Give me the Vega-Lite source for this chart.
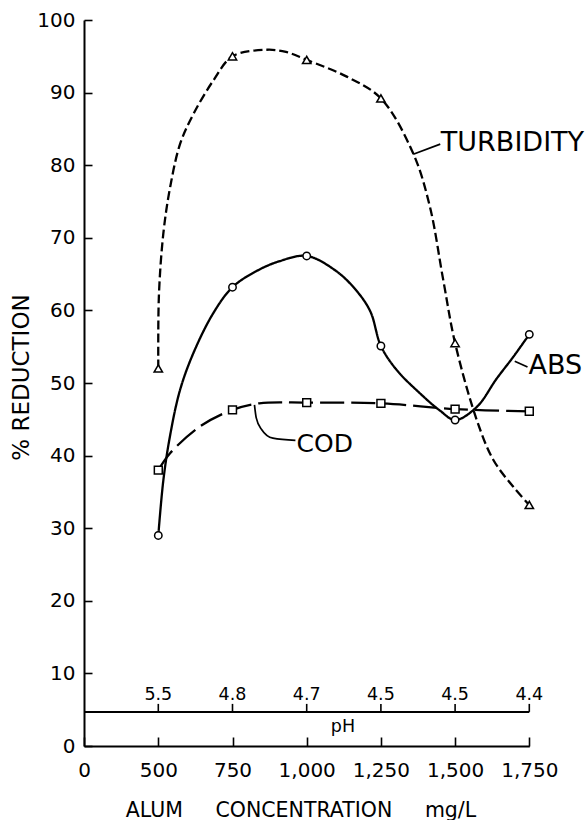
{
  "$schema": "https://vega.github.io/schema/vega-lite/v6.json",
  "autosize": "none",
  "width": 446,
  "height": 726,
  "padding": {"left": 84, "top": 20, "right": 57, "bottom": 74},
  "background": "white",
  "config": {
    "view": {"stroke": null},
    "font": "DejaVu Sans",
    "axis": {
      "domainColor": "black",
      "domainWidth": 2,
      "tickColor": "black",
      "tickWidth": 1.6,
      "labelColor": "black",
      "titleColor": "black",
      "labelFont": "DejaVu Sans",
      "titleFont": "DejaVu Sans",
      "labelFontSize": 20,
      "titleFontWeight": "normal",
      "grid": false,
      "labelOverlap": false,
      "labelFlush": false
    }
  },
  "datasets": {
    "curves": [
      {"series": "TURBIDITY", "alum": 500, "value": 52},
      {"series": "TURBIDITY", "alum": 502, "value": 62},
      {"series": "TURBIDITY", "alum": 517, "value": 70.6},
      {"series": "TURBIDITY", "alum": 540, "value": 77},
      {"series": "TURBIDITY", "alum": 574, "value": 83},
      {"series": "TURBIDITY", "alum": 619, "value": 87.1},
      {"series": "TURBIDITY", "alum": 686, "value": 91.7},
      {"series": "TURBIDITY", "alum": 750, "value": 95},
      {"series": "TURBIDITY", "alum": 865, "value": 95.9},
      {"series": "TURBIDITY", "alum": 930, "value": 95.6},
      {"series": "TURBIDITY", "alum": 1000, "value": 94.5},
      {"series": "TURBIDITY", "alum": 1135, "value": 92.2},
      {"series": "TURBIDITY", "alum": 1250, "value": 89.2},
      {"series": "TURBIDITY", "alum": 1359, "value": 81.6},
      {"series": "TURBIDITY", "alum": 1415, "value": 74.3},
      {"series": "TURBIDITY", "alum": 1460, "value": 64.2},
      {"series": "TURBIDITY", "alum": 1500, "value": 55.5},
      {"series": "TURBIDITY", "alum": 1573, "value": 44.9},
      {"series": "TURBIDITY", "alum": 1629, "value": 39.4},
      {"series": "TURBIDITY", "alum": 1696, "value": 35.7},
      {"series": "TURBIDITY", "alum": 1750, "value": 33.2},
      {"series": "ABS", "alum": 500, "value": 29},
      {"series": "ABS", "alum": 517, "value": 36.6},
      {"series": "ABS", "alum": 539, "value": 42.6},
      {"series": "ABS", "alum": 573, "value": 49},
      {"series": "ABS", "alum": 618, "value": 54.1},
      {"series": "ABS", "alum": 685, "value": 59.6},
      {"series": "ABS", "alum": 750, "value": 63.2},
      {"series": "ABS", "alum": 830, "value": 65.4},
      {"series": "ABS", "alum": 910, "value": 66.8},
      {"series": "ABS", "alum": 1000, "value": 67.5},
      {"series": "ABS", "alum": 1100, "value": 65.4},
      {"series": "ABS", "alum": 1170, "value": 62.6},
      {"series": "ABS", "alum": 1215, "value": 59.8},
      {"series": "ABS", "alum": 1250, "value": 55.1},
      {"series": "ABS", "alum": 1303, "value": 51.8},
      {"series": "ABS", "alum": 1381, "value": 48.6},
      {"series": "ABS", "alum": 1449, "value": 46.2},
      {"series": "ABS", "alum": 1500, "value": 44.9},
      {"series": "ABS", "alum": 1573, "value": 46.7},
      {"series": "ABS", "alum": 1640, "value": 50.6},
      {"series": "ABS", "alum": 1696, "value": 53.6},
      {"series": "ABS", "alum": 1750, "value": 56.7},
      {"series": "COD", "alum": 500, "value": 38},
      {"series": "COD", "alum": 539, "value": 40.3},
      {"series": "COD", "alum": 640, "value": 44},
      {"series": "COD", "alum": 750, "value": 46.3},
      {"series": "COD", "alum": 840, "value": 47.2},
      {"series": "COD", "alum": 1000, "value": 47.3},
      {"series": "COD", "alum": 1250, "value": 47.2},
      {"series": "COD", "alum": 1500, "value": 46.4},
      {"series": "COD", "alum": 1750, "value": 46.1}
    ],
    "points": [
      {"series": "TURBIDITY", "alum": 500, "value": 52},
      {"series": "TURBIDITY", "alum": 750, "value": 95},
      {"series": "TURBIDITY", "alum": 1000, "value": 94.5},
      {"series": "TURBIDITY", "alum": 1250, "value": 89.2},
      {"series": "TURBIDITY", "alum": 1500, "value": 55.5},
      {"series": "TURBIDITY", "alum": 1750, "value": 33.2},
      {"series": "ABS", "alum": 500, "value": 29},
      {"series": "ABS", "alum": 750, "value": 63.2},
      {"series": "ABS", "alum": 1000, "value": 67.5},
      {"series": "ABS", "alum": 1250, "value": 55.1},
      {"series": "ABS", "alum": 1500, "value": 44.9},
      {"series": "ABS", "alum": 1750, "value": 56.7},
      {"series": "COD", "alum": 500, "value": 38},
      {"series": "COD", "alum": 750, "value": 46.3},
      {"series": "COD", "alum": 1000, "value": 47.3},
      {"series": "COD", "alum": 1250, "value": 47.2},
      {"series": "COD", "alum": 1500, "value": 46.4},
      {"series": "COD", "alum": 1750, "value": 46.1}
    ],
    "ph": [
      {"alum": 500, "ph": 5.5},
      {"alum": 750, "ph": 4.8},
      {"alum": 1000, "ph": 4.7},
      {"alum": 1250, "ph": 4.5},
      {"alum": 1500, "ph": 4.5},
      {"alum": 1750, "ph": 4.4}
    ],
    "labels": [
      {"series": "TURBIDITY", "alum": 1452, "value": 83.0},
      {"series": "ABS", "alum": 1747, "value": 52.4},
      {"series": "COD", "alum": 966, "value": 41.6}
    ],
    "leaders": [
      {"series": "TURBIDITY", "alum": 1359, "value": 81.5},
      {"series": "TURBIDITY", "alum": 1450, "value": 82.9},
      {"series": "ABS", "alum": 1701, "value": 53.0},
      {"series": "ABS", "alum": 1744, "value": 52.2},
      {"series": "COD", "alum": 824, "value": 47.0},
      {"series": "COD", "alum": 830, "value": 45.2},
      {"series": "COD", "alum": 848, "value": 43.6},
      {"series": "COD", "alum": 886, "value": 42.4},
      {"series": "COD", "alum": 962, "value": 42.1}
    ]
  },
  "layer": [
    {
      "data": {"name": "curves"},
      "mark": {"type": "line", "color": "black", "strokeWidth": 2.3, "interpolate": "catmull-rom"},
      "encoding": {
        "x": {
          "field": "alum",
          "type": "quantitative",
          "scale": {"domain": [0, 500, 1750], "range": [0, 74.3, 445.3], "nice": false, "zero": false},
          "axis": {
            "values": [0, 500, 750, 1000, 1250, 1500, 1750],
            "labelExpr": "format(datum.value, ',')",
            "tickSize": -9,
            "labelPadding": 23.5,
            "title": "ALUM\u00a0\u00a0\u00a0\u00a0\u00a0CONCENTRATION\u00a0\u00a0\u00a0\u00a0\u00a0mg/L",
            "titleFontSize": 20.5,
            "titleAlign": "center",
            "titleBaseline": "middle",
            "titleX": 216.5,
            "titleY": 64
          }
        },
        "y": {
          "field": "value",
          "type": "quantitative",
          "scale": {"domain": [0, 100], "nice": false},
          "axis": {
            "values": [0, 10, 20, 30, 40, 50, 60, 70, 80, 90, 100],
            "tickSize": -8,
            "labelPadding": 17,
            "title": "% REDUCTION",
            "titleFontSize": 23,
            "titleAngle": -90,
            "titleAlign": "center",
            "titleBaseline": "middle",
            "titleX": -62.5,
            "titleY": 357
          }
        },
        "detail": {"field": "series"},
        "strokeDash": {
          "field": "series",
          "type": "nominal",
          "scale": {"domain": ["ABS", "COD", "TURBIDITY"], "range": [[1, 0], [24, 7], [9, 4]]},
          "legend": null
        }
      }
    },
    {
      "data": {"values": [{}]},
      "mark": {"type": "rule", "color": "black", "strokeWidth": 2},
      "encoding": {
        "x": {"datum": 0, "type": "quantitative"},
        "x2": {"datum": 1750},
        "y": {"datum": 4.7, "type": "quantitative"}
      }
    },
    {
      "data": {"name": "ph"},
      "mark": {"type": "rule", "color": "black", "strokeWidth": 1.6},
      "encoding": {
        "x": {"field": "alum", "type": "quantitative"},
        "y": {"datum": 4.7, "type": "quantitative"},
        "y2": {"datum": 5.8}
      }
    },
    {
      "data": {"name": "ph"},
      "mark": {"type": "text", "fontSize": 17.5, "baseline": "alphabetic", "align": "center", "color": "black"},
      "encoding": {
        "x": {"field": "alum", "type": "quantitative"},
        "y": {"datum": 6.35, "type": "quantitative"},
        "text": {"field": "ph", "type": "quantitative", "format": ".1f"}
      }
    },
    {
      "data": {"values": [{}]},
      "mark": {"type": "text", "fontSize": 17.5, "baseline": "alphabetic", "align": "center", "color": "black", "text": "pH"},
      "encoding": {
        "x": {"datum": 1122, "type": "quantitative"},
        "y": {"datum": 1.95, "type": "quantitative"}
      }
    },
    {
      "data": {"name": "leaders"},
      "mark": {"type": "line", "color": "black", "strokeWidth": 1.7, "interpolate": "monotone"},
      "encoding": {
        "x": {"field": "alum", "type": "quantitative"},
        "y": {"field": "value", "type": "quantitative"},
        "detail": {"field": "series"}
      }
    },
    {
      "data": {"name": "points"},
      "mark": {"type": "point", "filled": true, "fill": "white", "stroke": "black", "strokeWidth": 1.5, "opacity": 1},
      "encoding": {
        "x": {"field": "alum", "type": "quantitative"},
        "y": {"field": "value", "type": "quantitative"},
        "shape": {
          "field": "series",
          "type": "nominal",
          "scale": {"domain": ["ABS", "COD", "TURBIDITY"], "range": ["circle", "square", "triangle-up"]},
          "legend": null
        },
        "size": {
          "field": "series",
          "type": "nominal",
          "scale": {"domain": ["ABS", "COD", "TURBIDITY"], "range": [55, 70, 90]},
          "legend": null
        }
      }
    },
    {
      "data": {"name": "labels"},
      "mark": {"type": "text", "align": "left", "baseline": "middle", "color": "black"},
      "encoding": {
        "x": {"field": "alum", "type": "quantitative"},
        "y": {"field": "value", "type": "quantitative"},
        "text": {"field": "series"},
        "size": {"condition": {"test": "datum.series === 'COD'", "value": 25}, "value": 27}
      }
    }
  ]
}
